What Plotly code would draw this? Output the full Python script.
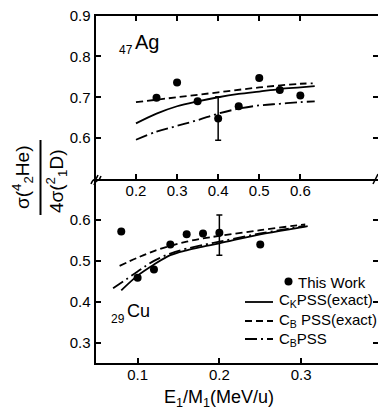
import plotly.graph_objects as go

W, H = 378, 408
FONT = "Liberation Sans, Arial, sans-serif"

# ---------------- data: 47Ag (upper panel) ----------------
ag_x = [0.25, 0.30, 0.35, 0.40, 0.45, 0.50, 0.55, 0.60]
ag_y = [0.699, 0.736, 0.690, 0.648, 0.678, 0.747, 0.718, 0.704]
ag_err = [0, 0, 0, 0.053, 0, 0, 0, 0]

ag_ck_exact_x = [0.20, 0.25, 0.30, 0.35, 0.40, 0.45, 0.50, 0.55, 0.60, 0.635]
ag_ck_exact_y = [0.636, 0.660, 0.678, 0.690, 0.700, 0.708, 0.714, 0.720, 0.724, 0.727]
ag_cb_exact_x = [0.20, 0.30, 0.40, 0.50, 0.60, 0.63]
ag_cb_exact_y = [0.688, 0.700, 0.712, 0.724, 0.733, 0.734]
ag_cb_x = [0.20, 0.25, 0.30, 0.35, 0.40, 0.45, 0.50, 0.55, 0.60, 0.635]
ag_cb_y = [0.596, 0.616, 0.630, 0.644, 0.660, 0.672, 0.680, 0.684, 0.688, 0.690]

# ---------------- data: 29Cu (lower panel) ----------------
cu_x = [0.08, 0.10, 0.12, 0.14, 0.16, 0.18, 0.20, 0.25]
cu_y = [0.572, 0.459, 0.479, 0.540, 0.565, 0.567, 0.569, 0.540]
cu_err_plus = [0, 0, 0, 0, 0, 0, 0.043, 0]
cu_err_minus = [0, 0, 0, 0, 0, 0, 0.055, 0]

cu_ck_exact_x = [0.08, 0.10, 0.12, 0.14, 0.16, 0.18, 0.20, 0.25, 0.30, 0.308]
cu_ck_exact_y = [0.428, 0.464, 0.491, 0.514, 0.526, 0.535, 0.543, 0.565, 0.582, 0.585]
cu_cb_exact_x = [0.078, 0.10, 0.12, 0.14, 0.16, 0.18, 0.20, 0.25, 0.30, 0.305]
cu_cb_exact_y = [0.488, 0.508, 0.524, 0.537, 0.547, 0.555, 0.561, 0.575, 0.588, 0.589]
cu_cb_x = [0.070, 0.10, 0.12, 0.14, 0.16, 0.20, 0.25, 0.30, 0.305]
cu_cb_y = [0.433, 0.474, 0.500, 0.518, 0.530, 0.547, 0.567, 0.584, 0.586]

# tick values
ag_xticks = [0.2, 0.3, 0.4, 0.5, 0.6]
ag_yticks = [0.6, 0.7, 0.8, 0.9]
cu_xticks = [0.1, 0.2, 0.3]
cu_yticks = [0.3, 0.4, 0.5, 0.6]

legend_labels = ["This Work", "C<sub>K</sub>PSS(exact)", "C<sub>B</sub> PSS(exact)", "C<sub>B</sub>PSS"]


def px(x):
    return x / W


def py(y):
    return 1 - y / H


LW = 1.8
DASH = "7px,4px"
DASHDOT = "12px,4px,2px,4px"

fig = go.Figure()


def add_panel(xs, ys, ep, em, ck, cb_ex, cb, xa, ya):
    fig.add_trace(go.Scatter(x=ck[0], y=ck[1], mode="lines", line=dict(color="black", width=LW, shape="spline"),
                             xaxis=xa, yaxis=ya, showlegend=False))
    fig.add_trace(go.Scatter(x=cb_ex[0], y=cb_ex[1], mode="lines",
                             line=dict(color="black", width=LW, dash=DASH, shape="spline"),
                             xaxis=xa, yaxis=ya, showlegend=False))
    fig.add_trace(go.Scatter(x=cb[0], y=cb[1], mode="lines",
                             line=dict(color="black", width=LW, dash=DASHDOT, shape="spline"),
                             xaxis=xa, yaxis=ya, showlegend=False))
    fig.add_trace(go.Scatter(x=xs, y=ys, mode="markers", marker=dict(color="black", size=8),
                             error_y=dict(type="data", symmetric=False, array=ep, arrayminus=em,
                                          color="black", thickness=1.5, width=3),
                             xaxis=xa, yaxis=ya, showlegend=False))


add_panel(ag_x, ag_y, ag_err, ag_err, (ag_ck_exact_x, ag_ck_exact_y), (ag_cb_exact_x, ag_cb_exact_y),
          (ag_cb_x, ag_cb_y), "x", "y")
add_panel(cu_x, cu_y, cu_err_plus, cu_err_minus, (cu_ck_exact_x, cu_ck_exact_y),
          (cu_cb_exact_x, cu_cb_exact_y), (cu_cb_x, cu_cb_y), "x2", "y2")

axis_common = dict(showgrid=False, zeroline=False, showline=True, linecolor="black", linewidth=2,
                   ticks="inside", ticklen=5, tickwidth=1.5, tickcolor="black",
                   tickfont=dict(family=FONT, size=15, color="black"), automargin=False)

xdom = [px(95.5), 1.0]
fig.update_layout(
    width=W, height=H, margin=dict(l=0, r=0, t=0, b=0),
    template="none", paper_bgcolor="white", plot_bgcolor="white",
    showlegend=False,
    xaxis=dict(domain=xdom, anchor="y", range=[0.1015, 0.789], tickvals=ag_xticks,
               ticktext=[f"{v:.1f}" for v in ag_xticks], mirror="ticks", ticklabelstandoff=-3,
               **axis_common),
    yaxis=dict(domain=[py(179), py(15.5)], anchor="x", range=[0.5, 0.9], tickvals=ag_yticks,
               ticktext=[f"{v:.1f}" for v in ag_yticks], mirror="ticks", **axis_common),
    xaxis2=dict(domain=xdom, anchor="y2", range=[0.0485, 0.394], tickvals=cu_xticks,
                ticktext=[f"{v:.1f}" for v in cu_xticks], mirror=False, ticklabelstandoff=-3,
                **axis_common),
    yaxis2=dict(domain=[py(363.3), py(179)], anchor="x2", range=[0.25, 0.70], tickvals=cu_yticks,
                ticktext=[f"{v:.1f}" for v in cu_yticks], mirror="ticks", **axis_common),
)

shapes = []
ann = []

# axis break marks
shapes.append(dict(type="path", xref="paper", yref="paper",
                   path=f"M {px(91)},{py(184)} C {px(94)},{py(176)} {px(95)},{py(183)} {px(98)},{py(175)}",
                   line=dict(color="black", width=1.5)))
shapes.append(dict(type="path", xref="paper", yref="paper",
                   path=f"M {px(94)},{py(185)} C {px(97)},{py(177)} {px(98)},{py(184)} {px(101)},{py(176)}",
                   line=dict(color="black", width=1.5)))
shapes.append(dict(type="line", xref="paper", yref="paper", x0=px(373), y0=py(184), x1=px(378), y1=py(174),
                   line=dict(color="black", width=1.5)))

# y-axis title as a stacked fraction
ann.append(dict(text="σ(<sup>4</sup><sub>2</sub>He)", x=px(22), y=py(177), xref="paper", yref="paper",
                showarrow=False, textangle=-90, xanchor="center", yanchor="middle",
                font=dict(family=FONT, size=19, color="black")))
ann.append(dict(text="4σ(<sup>2</sup><sub>1</sub>D)", x=px(56), y=py(181), xref="paper", yref="paper",
                showarrow=False, textangle=-90, xanchor="center", yanchor="middle",
                font=dict(family=FONT, size=19, color="black")))
shapes.append(dict(type="line", xref="paper", yref="paper", x0=px(40.5), y0=py(140), x1=px(40.5), y1=py(215),
                   line=dict(color="black", width=2)))

# x-axis title
ann.append(dict(text="E<sub>1</sub>/M<sub>1</sub>(MeV/u)", x=px(219), y=py(412), xref="paper", yref="paper",
                showarrow=False, xanchor="center", yanchor="bottom",
                font=dict(family=FONT, size=18, color="black")))

# element labels
ann.append(dict(text="Ag", x=px(133), y=py(42), xref="paper", yref="paper", showarrow=False,
                xanchor="left", yanchor="middle", font=dict(family=FONT, size=20, color="black")))
ann.append(dict(text="47", x=px(135), y=py(50), xref="paper", yref="paper", showarrow=False,
                xanchor="right", yanchor="middle", font=dict(family=FONT, size=12, color="black")))
ann.append(dict(text="Cu", x=px(125), y=py(311), xref="paper", yref="paper", showarrow=False,
                xanchor="left", yanchor="middle", font=dict(family=FONT, size=18, color="black")))
ann.append(dict(text="29", x=px(127), y=py(319), xref="paper", yref="paper", showarrow=False,
                xanchor="right", yanchor="middle", font=dict(family=FONT, size=12, color="black")))

# legend (drawn by hand)
shapes.append(dict(type="circle", xref="paper", yref="paper", x0=px(284.5), x1=px(292.5),
                   y0=py(285.5), y1=py(277.5), fillcolor="black", line=dict(color="black", width=0)))
ann.append(dict(text=legend_labels[0], x=px(296), y=py(282), xref="paper", yref="paper", showarrow=False,
                xanchor="left", yanchor="middle", font=dict(family=FONT, size=15, color="black")))
leg_rows = [(302, "solid", 300), (321, DASH, 320), (339, DASHDOT, 339)]
for (ly, dash, ty), lab in zip(leg_rows, legend_labels[1:]):
    shapes.append(dict(type="line", xref="paper", yref="paper", x0=px(245), x1=px(273), y0=py(ly), y1=py(ly),
                       line=dict(color="black", width=LW, dash=dash)))
    ann.append(dict(text=lab, x=px(277), y=py(ty), xref="paper", yref="paper", showarrow=False,
                    xanchor="left", yanchor="middle", font=dict(family=FONT, size=15, color="black")))

fig.update_layout(shapes=shapes, annotations=ann)
fig.write_html("out.html", config={"displayModeBar": False},
               post_script="document.body.style.margin='0';document.body.style.padding='0';"
                           "document.body.style.overflow='hidden';"
                           "document.documentElement.style.overflow='hidden';")
